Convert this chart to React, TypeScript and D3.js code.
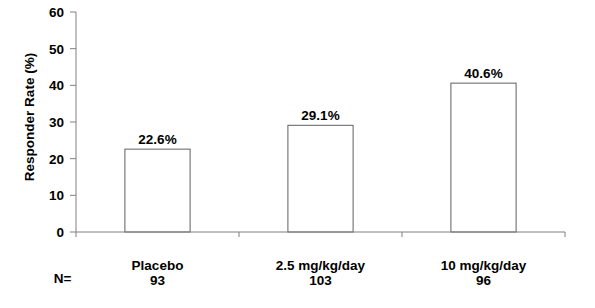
import React from "react";
import * as d3 from "d3";

const categories = ["Placebo", "2.5 mg/kg/day", "10 mg/kg/day"];
const nValues = ["93", "103", "96"];
const rates = [22.6, 29.1, 40.6];
const yTicks = [0, 10, 20, 30, 40, 50, 60];

const W = 595;
const H = 308;
const M = { left: 76, right: 30, top: 12, bottom: 76 };

export default function App() {
  const x = d3
    .scaleBand<string>()
    .domain(categories)
    .range([M.left, W - M.right])
    .padding(0);
  const y = d3.scaleLinear().domain([0, 60]).range([H - M.bottom, M.top]);
  const bw = x.bandwidth() * 0.4;
  const font = "'Liberation Sans', Arial, sans-serif";
  const axisColor = "#808080";
  const fs = 13.5;
  const y0 = y(0);
  const bandEdges = [...categories.map((c) => x(c)!), x(categories[categories.length - 1])! + x.bandwidth()];

  return (
    <svg
      width={W}
      height={H}
      style={{ position: "absolute", left: 0, top: 0, background: "#fff" }}
      fontFamily={font}
      fontWeight="bold"
    >
      {/* bars */}
      {categories.map((c, i) => {
        const cx = x(c)! + x.bandwidth() / 2;
        return (
          <g key={c}>
            <rect
              x={cx - bw / 2}
              y={y(rates[i])}
              width={bw}
              height={y0 - y(rates[i])}
              fill="#fff"
              stroke="#606060"
              strokeWidth={1}
            />
            <text x={cx} y={y(rates[i]) - 5.5} textAnchor="middle" fontSize={fs} fill="#000">
              {rates[i].toFixed(1)}%
            </text>
            <text x={cx} y={269.5} textAnchor="middle" fontSize={fs} fill="#000">
              {c}
            </text>
            <text x={cx} y={285} textAnchor="middle" fontSize={fs} fill="#000">
              {nValues[i]}
            </text>
          </g>
        );
      })}
      {/* y axis */}
      <line x1={M.left} x2={M.left} y1={y(60)} y2={y0} stroke={axisColor} />
      {yTicks.map((t) => (
        <g key={t}>
          <line x1={M.left - 6} x2={M.left} y1={y(t)} y2={y(t)} stroke={axisColor} />
          <text x={M.left - 12} y={y(t)} dy="0.36em" textAnchor="end" fontSize={fs} fill="#000">
            {t}
          </text>
        </g>
      ))}
      {/* x axis */}
      <line x1={M.left} x2={W - M.right} y1={y0} y2={y0} stroke={axisColor} />
      {bandEdges.map((e, i) => (
        <line key={i} x1={e} x2={e} y1={y0} y2={y0 + 5} stroke={axisColor} />
      ))}
      <text x={62.5} y={282.5} textAnchor="middle" fontSize={fs} fill="#000">
        N=
      </text>
      <text
        transform={`translate(34,117) rotate(-90)`}
        textAnchor="middle"
        fontSize={fs}
        fill="#000"
      >
        Responder Rate (%)
      </text>
    </svg>
  );
}
